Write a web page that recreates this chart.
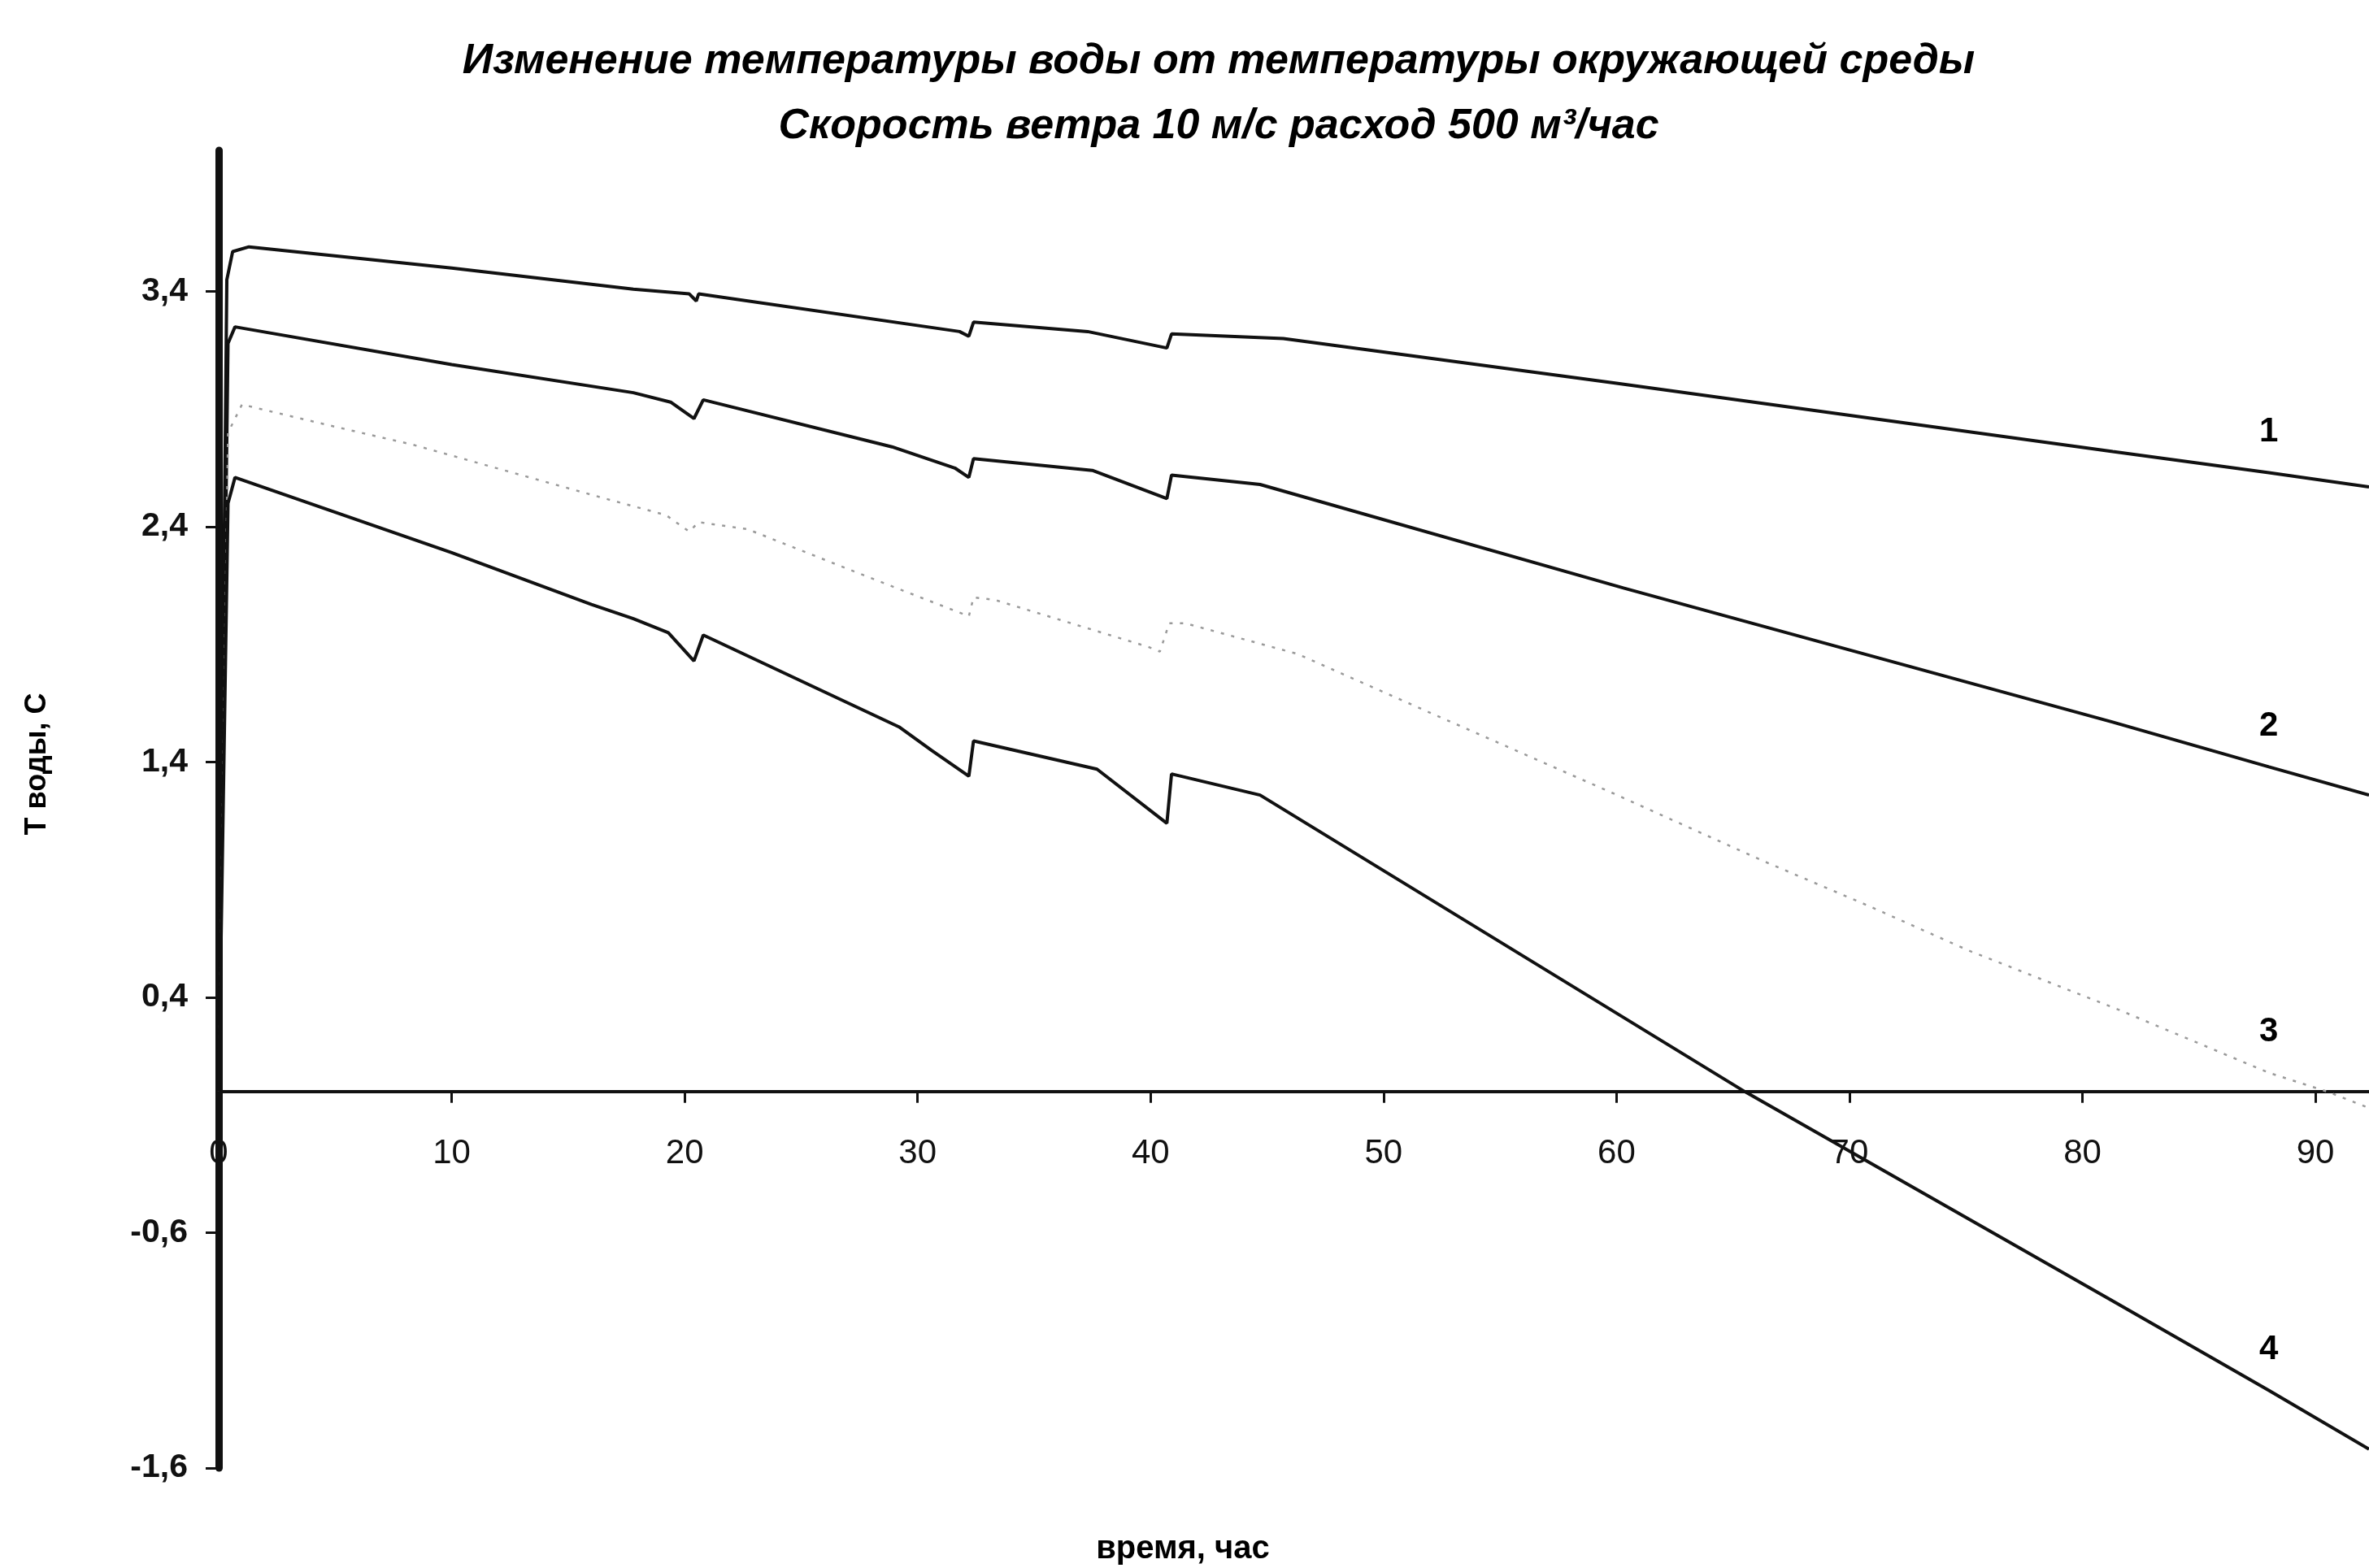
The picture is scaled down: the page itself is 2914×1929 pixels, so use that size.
<!DOCTYPE html>
<html>
<head>
<meta charset="utf-8">
<script src="https://cdn.jsdelivr.net/npm/echarts@6/dist/echarts.min.js"></script>
<style>
    html, body { margin: 0; padding: 0; background: #fff; }
    #chart { width: 2914px; height: 1929px; }
</style>
</head>
<body>
<div id="chart"></div>
<script>
// время, час / T воды, C
let hours1 = [0, 0.35, 0.6, 1.3, 10, 17.8, 20.2, 20.5, 20.6, 31.8, 32.2, 32.4, 37.3, 40.7, 40.9, 45.7, 60, 81.3, 88, 92.3]
let temp1 = [0, 3.45, 3.57, 3.59, 3.50, 3.41, 3.39, 3.36, 3.39, 3.23, 3.21, 3.27, 3.23, 3.16, 3.22, 3.20, 3.01, 2.72, 2.63, 2.57]

let hours2 = [0, 0.4, 0.7, 10, 17.8, 19.4, 20.4, 20.8, 28.9, 31.6, 32.2, 32.4, 37.5, 40.7, 40.9, 44.7, 60.3, 81.3, 88, 92.3]
let temp2 = [0, 3.18, 3.25, 3.09, 2.97, 2.93, 2.86, 2.94, 2.74, 2.65, 2.61, 2.69, 2.64, 2.52, 2.62, 2.58, 2.14, 1.57, 1.38, 1.26]

let hours3 = [0, 0.4, 1, 4.8, 8.3, 16.6, 19.2, 20.2, 20.6, 22.7, 27.8, 32.2, 32.4, 33.3, 39.9, 40.4, 40.8, 41.5, 46.3, 52, 59.8, 66.3, 70.8, 75.1, 81.5, 88, 90.5, 92.3]
let temp3 = [0, 2.8, 2.92, 2.83, 2.75, 2.52, 2.45, 2.38, 2.42, 2.39, 2.19, 2.02, 2.10, 2.09, 1.89, 1.87, 1.99, 1.99, 1.86, 1.61, 1.27, 0.98, 0.79, 0.60, 0.35, 0.08, 0.0, -0.07]

let hours4 = [0, 0.4, 0.7, 10, 16, 17.8, 19.3, 20.4, 20.8, 29.2, 30.6, 32.2, 32.4, 37.7, 40.7, 40.9, 44.7, 51.8, 65.5, 81.3, 88, 92.3]
let temp4 = [0, 2.5, 2.61, 2.29, 2.07, 2.01, 1.95, 1.83, 1.94, 1.55, 1.45, 1.34, 1.49, 1.37, 1.14, 1.35, 1.26, 0.83, 0, -0.89, -1.27, -1.52]

let curveNames = ['1', '2', '3', '4']
let xTicks = [0, 10, 20, 30, 40, 50, 60, 70, 80, 90]
let yTicks = [-1.6, -0.6, 0.4, 1.4, 2.4, 3.4]
let labelHour = 88

let titleLine1 = 'Изменение температуры воды от температуры окружающей среды'
let titleLine2 = 'Скорость ветра 10 м/с расход 500 м³/час'
let xName = 'время, час'
let yName = 'Т воды, С'

let echartsLib = window.echarts
let myChart = echartsLib.init(document.getElementById('chart'), null, {renderer: 'canvas'})

function makeData(hours, temps, name) {
    let arr = []
    for (let i = 0; i < hours.length; i++) {
        if (hours[i] === labelHour) {
            // the curve number sits over this point
            arr.push({
                value: [hours[i], temps[i]],
                symbol: 'circle',
                symbolSize: 2,
                itemStyle: {color: 'transparent', borderWidth: 0},
                label: {
                    show: true,
                    formatter: name,
                    position: 'top',
                    distance: 28,
                    color: '#000',
                    fontSize: 42,
                    fontWeight: 'bold',
                    fontFamily: 'Liberation Sans'
                }
            })
        } else {
            arr.push({value: [hours[i], temps[i]]})
        }
    }
    return arr
}

let allHours = [hours1, hours2, hours3, hours4]
let allTemps = [temp1, temp2, temp3, temp4]
let series = []
for (let k = 0; k < 4; k++) {
    let faint = k === 2
    series.push({
        name: curveNames[k],
        type: 'line',
        showSymbol: true,
        symbol: 'none',
        smooth: false,
        data: makeData(allHours[k], allTemps[k], curveNames[k]),
        lineStyle: faint ? {color: '#9a9a9a', width: 2.5, type: [4, 9]} : {color: '#111', width: 4},
        z: 3
    })
}

myChart.setOption({
    animation: false,
    backgroundColor: '#fff',
    grid: {
        left: 269,
        right: 0,
        top: 185,
        bottom: 123,
        containLabel: false,
        outerBoundsMode: 'none'
    },
    xAxis: {
        type: 'value',
        min: 0,
        max: 92.3,
        axisLine: {onZero: true, lineStyle: {color: '#111', width: 4}},
        axisTick: {show: true, inside: false, length: 14, customValues: xTicks.slice(1), lineStyle: {color: '#111', width: 3}},
        axisLabel: {
            customValues: xTicks,
            // labels hang under the zero line, not the grid bottom
            margin: -408,
            color: '#111',
            fontSize: 42,
            fontFamily: 'Liberation Sans'
        },
        splitLine: {show: false}
    },
    yAxis: {
        type: 'value',
        min: -1.6,
        max: 4.0,
        axisLine: {show: true, onZero: false, lineStyle: {color: '#111', width: 9}},
        axisTick: {show: true, inside: false, length: 16, customValues: yTicks, lineStyle: {color: '#111', width: 3}},
        axisLabel: {
            customValues: yTicks,
            margin: 38,
            color: '#111',
            fontSize: 41,
            fontWeight: 'bold',
            fontFamily: 'Liberation Sans',
            formatter: function (v) { return v.toFixed(1).replace('.', ',') }
        },
        splitLine: {show: false}
    },
    graphic: [
        {
            type: 'text', x: 1499, y: 76,
            style: {text: titleLine1, fill: '#000', fontSize: 52, fontWeight: 'bold', fontStyle: 'italic',
                fontFamily: 'Liberation Sans', align: 'center', verticalAlign: 'middle'}
        },
        {
            type: 'text', x: 1499, y: 156,
            style: {text: titleLine2, fill: '#000', fontSize: 52, fontWeight: 'bold', fontStyle: 'italic',
                fontFamily: 'Liberation Sans', align: 'center', verticalAlign: 'middle'}
        },
        {
            type: 'text', x: 1455, y: 1906,
            style: {text: xName, fill: '#000', fontSize: 40, fontWeight: 'bold',
                fontFamily: 'Liberation Sans', align: 'center', verticalAlign: 'middle'}
        },
        {
            type: 'text', x: 46, y: 940, rotation: Math.PI / 2,
            style: {text: yName, fill: '#000', fontSize: 36, fontWeight: 'bold',
                fontFamily: 'Liberation Sans', align: 'center', verticalAlign: 'middle'}
        }
    ],
    series: series
})
</script>
</body>
</html>
